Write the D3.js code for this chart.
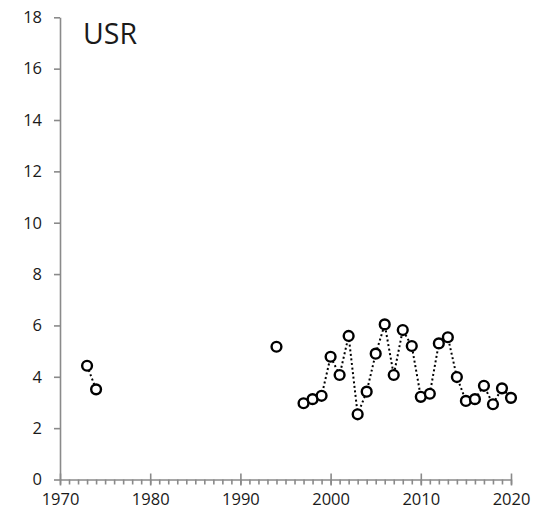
<!DOCTYPE html>
<html>
<head>
<meta charset="utf-8">
<script src="https://cdn.jsdelivr.net/npm/d3@7"></script>
<style>
  body { margin: 0; background: #fff; }
  svg text { font-family: "Open Sans", sans-serif; fill: #1a1a1a; }
</style>
</head>
<body>
<svg id="chart" width="538" height="513"></svg>
<script>
// values
const years = [1973, 1974, 1994, 1997, 1998, 1999, 2000, 2001, 2002, 2003, 2004, 2005, 2006,
  2007, 2008, 2009, 2010, 2011, 2012, 2013, 2014, 2015, 2016, 2017, 2018, 2019, 2020];
const values = [4.43, 3.51, 5.17, 2.97, 3.13, 3.26, 4.78, 4.07, 5.59, 2.54, 3.42, 4.90, 6.04,
  4.07, 5.82, 5.20, 3.22, 3.34, 5.30, 5.54, 3.99, 3.06, 3.13, 3.65, 2.93, 3.55, 3.18];
const xTicks = [1970, 1980, 1990, 2000, 2010, 2020];
const yTicks = [0, 2, 4, 6, 8, 10, 12, 14, 16, 18];
const title = 'USR';

const svg = d3.select('#chart');
const axisColor = '#8a8a8a';

const x = d3.scaleLinear().domain([1970, 2020]).range([60, 511]);
const y = d3.scaleLinear().domain([0, 18]).range([479.5, 17.3]);

// y axis
const yAxis = d3.axisLeft(y)
  .tickValues(yTicks)
  .tickSize(6)
  .tickSizeOuter(0)
  .tickPadding(12);
const gy = svg.append('g')
  .attr('transform', `translate(${x(1970)},0)`)
  .call(yAxis);

// x axis minor ticks (every year)
const gxMinor = svg.append('g')
  .attr('transform', `translate(0,${y(0)})`)
  .call(d3.axisBottom(x).tickValues(d3.range(1970, 2021)).tickSize(5).tickSizeOuter(0).tickFormat(''));
gxMinor.select('.domain').remove();

// x axis major
const gx = svg.append('g')
  .attr('transform', `translate(0,${y(0)})`)
  .call(d3.axisBottom(x).tickValues(xTicks).tickSize(6).tickSizeOuter(0).tickPadding(8).tickFormat(d3.format('d')));
gx.selectAll('.tick line').attr('y1', -6);

[gy, gx, gxMinor].forEach(g => {
  g.selectAll('path, line').attr('stroke', axisColor).attr('stroke-width', 1.6);
  g.selectAll('text').attr('font-size', 16.5).attr('fill', '#1a1a1a')
    .attr('font-family', '"Open Sans", sans-serif');
});

// data with gaps for missing years
const byYear = new Map(years.map((yr, i) => [yr, values[i]]));
const full = d3.range(years[0], years[years.length - 1] + 1)
  .map(yr => ({ year: yr, v: byYear.has(yr) ? byYear.get(yr) : null }));

const line = d3.line()
  .defined(d => d.v != null)
  .x(d => x(d.year))
  .y(d => y(d.v));

svg.append('path')
  .datum(full)
  .attr('fill', 'none')
  .attr('stroke', '#000')
  .attr('stroke-width', 2)
  .attr('stroke-dasharray', '2,2.6')
  .attr('d', line);

svg.append('g')
  .selectAll('circle')
  .data(years.map((yr, i) => ({ year: yr, v: values[i] })))
  .join('circle')
  .attr('cx', d => x(d.year))
  .attr('cy', d => y(d.v))
  .attr('r', 4.9)
  .attr('fill', '#fff')
  .attr('stroke', '#000')
  .attr('stroke-width', 2.4);

svg.append('text')
  .attr('x', 83)
  .attr('y', 44)
  .attr('font-size', 28.5)
  .text(title);
</script>
</body>
</html>
